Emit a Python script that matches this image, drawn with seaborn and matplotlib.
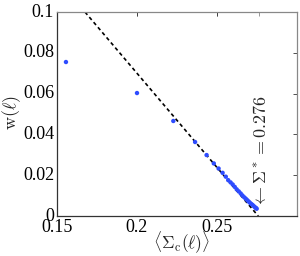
import matplotlib
matplotlib.use("Agg")
import matplotlib.pyplot as plt
import seaborn as sns
import pandas as pd

sigma_c = [0.1556, 0.2000, 0.2227, 0.2363, 0.2435, 0.2480, 0.2510, 0.2535, 0.2555, 0.2570,
           0.2585, 0.2598, 0.2611, 0.2623, 0.2636, 0.2648, 0.2659, 0.2670, 0.2680, 0.2689,
           0.2698, 0.2706, 0.2715, 0.2723, 0.2731, 0.2738, 0.2744, 0.2748]
w_vals = [0.0755, 0.0603, 0.0466, 0.0363, 0.0299, 0.0258, 0.0233, 0.0212, 0.0193, 0.0176,
          0.0165, 0.0155, 0.0143, 0.0131, 0.0121, 0.0111, 0.0101, 0.0092, 0.0085, 0.0078,
          0.0071, 0.0065, 0.0059, 0.0054, 0.0048, 0.0043, 0.0039, 0.0036]
fit_x = [0.1675, 0.2758]
fit_y = [0.1, 0.0]
sigma_star = 0.276
xticks = [0.15, 0.2, 0.25]
xtick_labels = ["0.15", "0.2", "0.25"]
yticks = [0, 0.02, 0.04, 0.06, 0.08, 0.1]
ytick_labels = ["0", "0.02", "0.04", "0.06", "0.08", "0.1"]

sns.set_style("white")
plt.rcParams['font.family'] = ['Liberation Serif', 'DejaVu Serif']
plt.rcParams['mathtext.fontset'] = 'cm'

pts = pd.DataFrame({"x": sigma_c, "y": w_vals})
fit = pd.DataFrame({"x": fit_x, "y": fit_y})

fig = plt.figure(figsize=(3.0, 2.56), dpi=100)
ax = fig.add_axes([0.19, 0.156, 0.80, 0.797])

sns.lineplot(data=fit, x="x", y="y", ax=ax, color="black", lw=1.2,
             linestyle=(0, (2.2, 1.8)), zorder=2)
sns.scatterplot(data=pts, x="x", y="y", ax=ax, color="#2e4cff", s=10,
                edgecolor="none", zorder=3)

ax.set_xlim(0.15, 0.3)
ax.set_ylim(0, 0.1)
ax.set_xticks(xticks)
ax.set_xticklabels(xtick_labels)
ax.set_yticks(yticks)
ax.set_yticklabels(ytick_labels)
ax.tick_params(direction="in", top=True, right=True, length=3, width=0.6,
               labelsize=13, colors="#333333", labelcolor="black", pad=2)
for lab in ax.get_yticklabels():
    lab.set_verticalalignment("center")

# extra top tick at the critical value
top = ax.secondary_xaxis("top")
top.set_xticks(xticks + [sigma_star])
top.tick_params(direction="in", length=3, width=0.6, colors="#888888",
                labeltop=False)
top.spines["top"].set_visible(False)

for s in ["left", "bottom"]:
    ax.spines[s].set_color("#333333")
    ax.spines[s].set_linewidth(0.9)
for s in ["top", "right"]:
    ax.spines[s].set_color("#888888")
    ax.spines[s].set_linewidth(0.9)

ax.set_xlabel(r"$\langle\Sigma_{\rm c}(\ell)\rangle$", fontsize=12.5)
ax.xaxis.set_label_coords(0.52, -0.07)
ax.set_ylabel(r"$\mathrm{w}(\ell)$", fontsize=13)
ax.yaxis.label.set_verticalalignment("center")
ax.yaxis.set_label_coords(-0.19, 0.505)

ax.text(0.2775, 0.0314, r"$\leftarrow\Sigma^* = 0.276$", rotation=90,
        ha="center", va="center", fontsize=13)

fig.savefig("out.png", dpi=100)
